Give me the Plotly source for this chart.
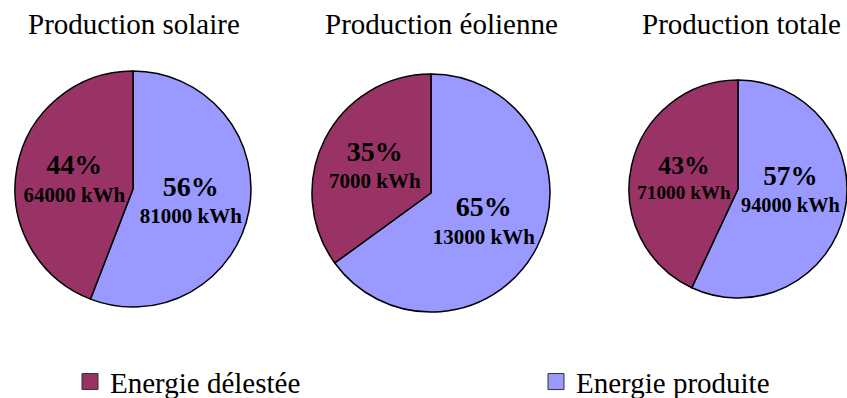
import plotly.graph_objects as go

categories = ["Energie délestée", "Energie produite"]
titles = ["Production solaire", "Production éolienne", "Production totale"]
solaire_kwh = [64000, 81000]
eolienne_kwh = [7000, 13000]
totale_kwh = [71000, 94000]

colors = ["#993366", "#9999FF"]
serif = "Liberation Serif, Times New Roman, serif"
W, H = 847, 398

# pie centres / radii in pixels (x from left, y from top)
geom = [(133, 189, 118), (431, 193, 119), (738, 189, 109)]


def domain(cx, cy, r):
    x0 = max(0.0, (cx - r) / W)
    x1 = min(1.0, (cx + r) / W)
    yb = H - cy
    return dict(x=[x0, x1], y=[(yb - r) / H, (yb + r) / H])


fig = go.Figure()
for i, vals in enumerate([solaire_kwh, eolienne_kwh, totale_kwh]):
    # reversed so "délestée" lands left of 12 o'clock going clockwise
    fig.add_trace(go.Pie(
        labels=categories[::-1],
        values=vals[::-1],
        sort=False,
        direction="clockwise",
        rotation=0,
        domain=domain(*geom[i]),
        marker=dict(colors=colors[::-1], line=dict(color="black", width=1.5)),
        textposition="inside",
        insidetextorientation="horizontal",
        texttemplate="<span style='font-size:28px'>%{percent:.0%}</span><br>%{value:.0f} kWh",
        insidetextfont=dict(family=serif, size=21, color="black", weight=700),
        showlegend=False,
        hoverinfo="label+value+percent",
    ))

# legend entries, one legend per category so they can sit far apart
for cat, col, leg in zip(categories, colors, ["legend", "legend2"]):
    fig.add_trace(go.Scatter(
        x=[None], y=[None], mode="markers", name=cat, legend=leg,
        marker=dict(symbol="square", size=16, color=col,
                    line=dict(color="#333333", width=1)),
        hoverinfo="skip",
    ))

# title placement: (x in px, anchor)
title_pos = [(134, "center"), (441, "center"), (843, "right")]
annotations = []
for t, (px, anchor) in zip(titles, title_pos):
    annotations.append(dict(
        text=t, x=px / W, y=1, xref="paper", yref="paper",
        xanchor=anchor, yanchor="top", yshift=-6, showarrow=False,
        font=dict(family=serif, size=29, color="black"),
    ))

leg_style = dict(orientation="h", yanchor="middle", y=0.041, xanchor="left",
                 font=dict(family=serif, size=29, color="black"),
                 bgcolor="rgba(0,0,0,0)")

fig.update_layout(
    width=W, height=H,
    autosize=False,
    margin=dict(l=0, r=0, t=0, b=0, autoexpand=False),
    paper_bgcolor="white",
    plot_bgcolor="white",
    annotations=annotations,
    xaxis=dict(visible=False),
    yaxis=dict(visible=False),
    legend=dict(x=70 / W, **leg_style),
    legend2=dict(x=536 / W, **leg_style),
)

fig.write_html(
    "out.html",
    config={"responsive": False, "displayModeBar": False},
    post_script="document.body.style.margin='0';",
)
